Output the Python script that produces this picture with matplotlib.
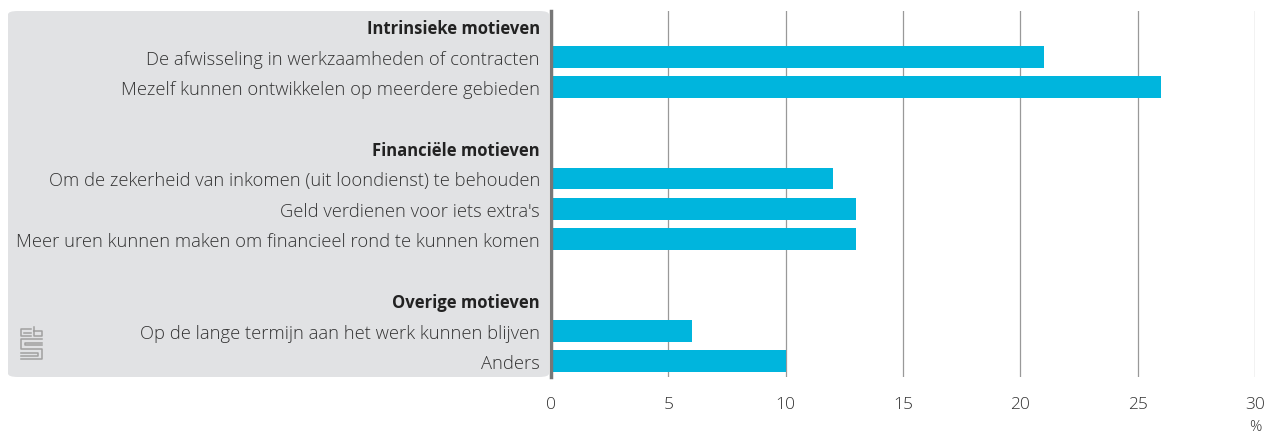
import matplotlib.pyplot as plt
from matplotlib.patches import FancyBboxPatch

plt.rcParams['font.family'] = ['Open Sans', 'DejaVu Sans']

# rows from top to bottom; None = no bar (header or spacer)
labels = [
    "Intrinsieke motieven",
    "De afwisseling in werkzaamheden of contracten",
    "Mezelf kunnen ontwikkelen op meerdere gebieden",
    "",
    "Financiële motieven",
    "Om de zekerheid van inkomen (uit loondienst) te behouden",
    "Geld verdienen voor iets extra's",
    "Meer uren kunnen maken om financieel rond te kunnen komen",
    "",
    "Overige motieven",
    "Op de lange termijn aan het werk kunnen blijven",
    "Anders",
]
values = [None, 21, 26, None, None, 12, 13, 13, None, None, 6, 10]
headers = ["Intrinsieke motieven", "Financiële motieven", "Overige motieven"]
xticks = [0, 5, 10, 15, 20, 25, 30]

bar_color = "#00b5dd"
text_color = "#333333"
panel_color = "#e1e2e4"

fig = plt.figure(figsize=(12.68, 4.35), dpi=100)
ax = fig.add_axes([551 / 1268, 1 - 378 / 435, 704 / 1268, 366 / 435])

ypos = list(range(len(labels)))
for y, v in zip(ypos, values):
    if v is not None:
        ax.barh(y, v, height=0.72, color=bar_color, zorder=3)

ax.set_ylim(len(labels) - 0.48, -0.5)
ax.set_xlim(0, 30)
ax.set_xticks(xticks)
ax.set_xticklabels([str(t) for t in xticks], fontsize=12.5, color=text_color,
                   fontweight="light")
ax.tick_params(axis="x", length=0, pad=14)
ax.set_yticks(ypos)
ax.set_yticklabels(labels, fontsize=13.2, color=text_color, fontweight="light")
ax.tick_params(axis="y", length=0, pad=8)
for t in ax.get_yticklabels():
    if t.get_text() in headers:
        t.set_fontweight("bold")
        t.set_fontsize(12)
        t.set_color("#222222")

ax.grid(axis="x", color="#999999", linewidth=0.9, zorder=0)
for s in ["top", "right", "bottom"]:
    ax.spines[s].set_visible(False)
ax.spines["left"].set_color("#777777")
ax.spines["left"].set_linewidth(2.5)
ax.spines["left"].set_zorder(4)

# grey label panel
panel = FancyBboxPatch((8 / 1268, 1 - 378 / 435), (549 - 8) / 1268, 366 / 435,
                       boxstyle="round,pad=0,rounding_size=0.008",
                       transform=fig.transFigure, facecolor=panel_color,
                       edgecolor="none", zorder=-1)
fig.patches.append(panel)

# small CBS-like logo
lc = "#a0a0a0"
def fl(xs, ys):
    fig.add_artist(plt.Line2D([x / 1268 for x in xs], [1 - y / 435 for y in ys],
                              color=lc, linewidth=1.1, transform=fig.transFigure))
fl([31, 21, 21, 31], [330, 330, 337, 337])
fl([24, 31], [333.5, 333.5])
fl([34, 34, 42, 42, 34], [328, 337, 337, 332, 332])
fl([42, 21, 21, 42, 42, 21], [340, 340, 350, 350, 360, 360])
fl([42, 25, 25, 42], [344, 344, 346, 346])
fl([21, 38, 38, 21], [354, 354, 357, 357])

fig.text(1255 / 1268, 1 - 428 / 435, "%", fontsize=11, color=text_color,
         ha="center", va="center", fontweight="light")

fig.savefig("out.png", dpi=100)
